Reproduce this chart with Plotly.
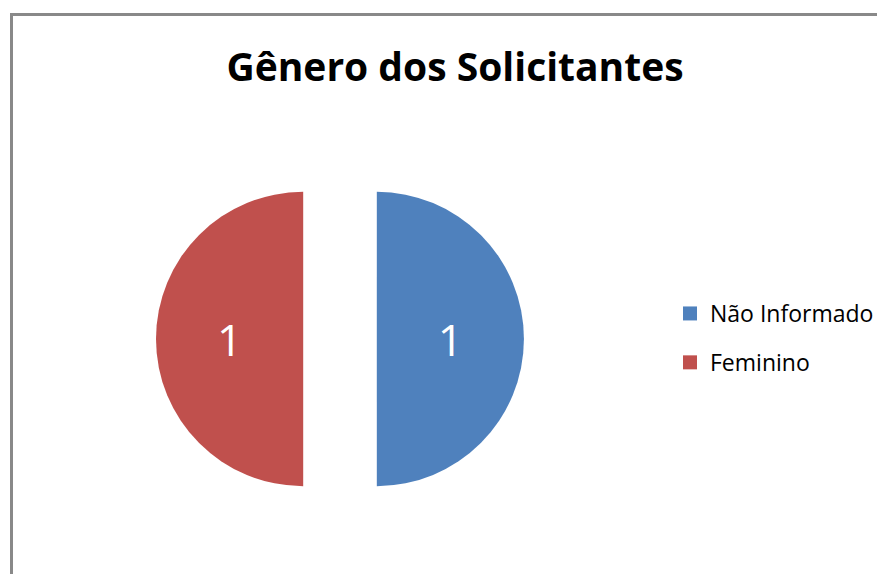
import plotly.graph_objects as go

categories = ["Não Informado", "Feminino"]
values = [1, 1]
colors = ["#4F81BD", "#C0504D"]
title_text = "Gênero dos Solicitantes"

W, H = 885, 574

fig = go.Figure()
fig.add_trace(go.Pie(
    labels=categories, values=values, sort=False, direction="clockwise",
    rotation=0, pull=[0.25, 0.25],
    marker=dict(colors=colors, line=dict(width=0)),
    textinfo="value", textposition="inside", insidetextorientation="horizontal",
    textfont=dict(family="Open Sans", size=44, color="white"),
    domain=dict(x=[148/W, 516/W], y=[59/H, 427/H]),
    showlegend=False, hoverinfo="label+value",
))
for c, col in zip(categories, colors):
    fig.add_trace(go.Scatter(
        x=[None], y=[None], mode="markers", name=c, legendgroup=c,
        marker=dict(symbol="square", size=14, color=col),
    ))

fig.update_layout(
    width=W, height=H, margin=dict(l=0, r=0, t=0, b=0),
    paper_bgcolor="white", plot_bgcolor="white",
    title=dict(text="<b>" + title_text + "</b>", x=447/W, xanchor="center",
               y=1 - 59/H, yanchor="middle",
               font=dict(family="Open Sans", size=39, color="black")),
    xaxis=dict(visible=False), yaxis=dict(visible=False),
    legend=dict(x=662/W, y=1 - 284/H, xanchor="left", yanchor="top",
                font=dict(family="Open Sans", size=23, color="black"),
                tracegroupgap=16, itemwidth=30, bgcolor="rgba(0,0,0,0)"),
    shapes=[dict(type="rect", xref="paper", yref="paper",
                 x0=3.5/W, x1=1.2, y0=-0.2, y1=1 - 6.5/H,
                 line=dict(color="#898989", width=3), fillcolor="rgba(0,0,0,0)",
                 layer="above")],
)
fig.write_html("out.html")
